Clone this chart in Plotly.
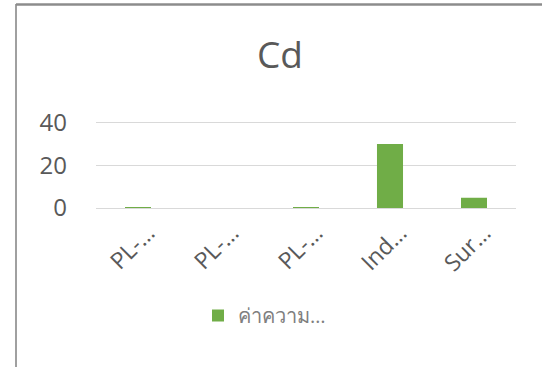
import plotly.graph_objects as go

categories = ["PL-1", "PL-2", "PL-3", "Ind", "Sur"]
tick_labels = ["PL-…", "PL-…", "PL-…", "Ind…", "Sur…"]
values = [0.3, 0.0, 0.2, 30.0, 4.8]
series_name = "ค่าความ…"
title_text = "Cd"

W, H = 542, 367
L, R, T, B = 96, 26, 120, 159
pw, ph = W - L - R, H - T - B

def px_x(x):
    return (x - L) / pw

def px_y(y):
    return (H - B - y) / ph

fig = go.Figure()
fig.add_trace(go.Bar(
    x=categories, y=values, name=series_name,
    marker=dict(color="#70AD47", line=dict(width=0)),
    width=0.31, showlegend=True,
))

fig.update_layout(
    width=W, height=H,
    margin=dict(l=L, r=R, t=T, b=B, pad=0),
    paper_bgcolor="white", plot_bgcolor="white",
    font=dict(family="Open Sans", color="#595959"),
    title=dict(text=title_text, x=280 / W, xanchor="center",
               y=1 - 55 / H, yanchor="middle", yref="container",
               font=dict(size=37, color="#595959")),
    xaxis=dict(tickmode="array", tickvals=categories, ticktext=tick_labels,
               tickangle=-45, tickfont=dict(size=23, color="#595959"),
               showgrid=False, showline=False, zeroline=False, ticks="",
               ticklabelshift=10, ticklabelstandoff=6),
    yaxis=dict(range=[0, 41.2], tickvals=[0, 20, 40],
               tickfont=dict(size=24, color="#595959"),
               showgrid=True, gridcolor="#D9D9D9", gridwidth=1.2,
               zeroline=True, zerolinecolor="#D9D9D9", zerolinewidth=1.2,
               showline=False, ticks="", ticklabelstandoff=28),
    legend=dict(orientation="h", x=px_x(198), xanchor="left",
                y=px_y(296), yanchor="top",
                font=dict(size=20, color="#7F7F7F"),
                bgcolor="rgba(0,0,0,0)"),
    bargap=0.69,
    shapes=[
        dict(type="line", xref="paper", yref="paper",
             x0=px_x(16), x1=px_x(16), y0=px_y(367), y1=px_y(4),
             line=dict(color="#A0A0A0", width=2)),
        dict(type="line", xref="paper", yref="paper",
             x0=px_x(16), x1=px_x(542), y0=px_y(4.5), y1=px_y(4.5),
             line=dict(color="#8C8C8C", width=2.5)),
    ],
)

fig.write_html("out.html")
